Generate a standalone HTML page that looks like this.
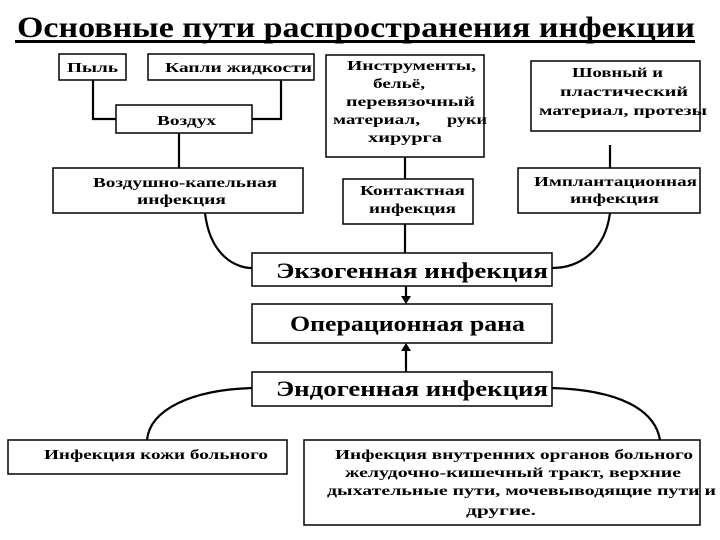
<!DOCTYPE html>
<html><head><meta charset="utf-8"><style>
html,body{margin:0;padding:0;background:#fff;}
svg{display:block}
text{font-family:"Liberation Serif",serif;font-weight:bold;fill:#000}
</style></head><body>
<svg width="720" height="540" viewBox="0 0 720 540" xmlns="http://www.w3.org/2000/svg">
<text x="17" y="37" font-size="30" textLength="678" lengthAdjust="spacingAndGlyphs">Основные пути распространения инфекции</text>
<rect x="15" y="40" width="680" height="3" fill="#000"/>
<g fill="#fff" stroke="#000" stroke-width="1.5">
<rect x="59" y="54" width="67" height="26"/>
<rect x="148" y="54" width="166" height="26"/>
<rect x="116" y="105" width="136" height="28"/>
<rect x="53" y="168" width="250" height="45"/>
<rect x="326" y="55" width="158" height="102"/>
<rect x="343" y="179" width="130" height="45"/>
<rect x="531" y="61" width="169" height="70"/>
<rect x="518" y="168" width="182" height="45"/>
<rect x="252" y="253" width="300" height="33"/>
<rect x="252" y="304" width="300" height="39"/>
<rect x="252" y="372" width="300" height="34"/>
<rect x="8" y="440" width="279" height="34"/>
<rect x="304" y="440" width="396" height="85"/>
</g>
<g fill="none" stroke="#000" stroke-width="2.2">
<path d="M93 80 V119 H116"/>
<path d="M281 80 V119 H252"/>
<path d="M179 133 V168"/>
<path d="M405 157 V179"/>
<path d="M405 224 V253"/>
<path d="M610 145 V168"/>
<path d="M205 213 C210 255,235 268,252 268"/>
<path d="M610 213 C605 252,578 268,552 268"/>
<path d="M252 388 C190 390,150 410,147 440"/>
<path d="M552 388 C620 390,655 410,660 440"/>
<path d="M406 286 V297"/>
<path d="M406 372 V350"/>
</g>
<polygon points="401,296 411,296 406,304" fill="#000"/>
<polygon points="401,351 411,351 406,343" fill="#000"/>
<g font-size="14">
<text x="67" y="72" textLength="51" lengthAdjust="spacingAndGlyphs">Пыль</text>
<text x="165" y="72" textLength="147" lengthAdjust="spacingAndGlyphs">Капли жидкости</text>
<text x="157" y="125" textLength="59" lengthAdjust="spacingAndGlyphs">Воздух</text>
<text x="93" y="187" textLength="184" lengthAdjust="spacingAndGlyphs">Воздушно-капельная</text>
<text x="137" y="204" textLength="89" lengthAdjust="spacingAndGlyphs">инфекция</text>
<text x="347" y="70" textLength="129" lengthAdjust="spacingAndGlyphs">Инструменты,</text>
<text x="373" y="88" textLength="52" lengthAdjust="spacingAndGlyphs">бельё,</text>
<text x="346" y="106" textLength="129" lengthAdjust="spacingAndGlyphs">перевязочный</text>
<text x="333" y="124" textLength="87" lengthAdjust="spacingAndGlyphs">материал,</text>
<text x="447" y="124" textLength="40" lengthAdjust="spacingAndGlyphs">руки</text>
<text x="368" y="142" textLength="74" lengthAdjust="spacingAndGlyphs">хирурга</text>
<text x="360" y="195" textLength="105" lengthAdjust="spacingAndGlyphs">Контактная</text>
<text x="369" y="213" textLength="87" lengthAdjust="spacingAndGlyphs">инфекция</text>
<text x="572" y="77" textLength="91" lengthAdjust="spacingAndGlyphs">Шовный и</text>
<text x="560" y="96" textLength="128" lengthAdjust="spacingAndGlyphs">пластический</text>
<text x="539" y="115" textLength="168" lengthAdjust="spacingAndGlyphs">материал, протезы</text>
<text x="534" y="186" textLength="163" lengthAdjust="spacingAndGlyphs">Имплантационная</text>
<text x="570" y="203" textLength="89" lengthAdjust="spacingAndGlyphs">инфекция</text>
<text x="44" y="459" textLength="224" lengthAdjust="spacingAndGlyphs">Инфекция кожи больного</text>
<text x="335" y="459" textLength="358" lengthAdjust="spacingAndGlyphs">Инфекция внутренних органов больного</text>
<text x="345" y="477" textLength="336" lengthAdjust="spacingAndGlyphs">желудочно-кишечный тракт, верхние</text>
<text x="327" y="495" textLength="389" lengthAdjust="spacingAndGlyphs">дыхательные пути, мочевыводящие пути и</text>
<text x="466" y="515" textLength="70" lengthAdjust="spacingAndGlyphs">другие.</text>
</g>
<g font-size="22">
<text x="276" y="278" textLength="272" lengthAdjust="spacingAndGlyphs">Экзогенная инфекция</text>
<text x="290" y="331" textLength="235" lengthAdjust="spacingAndGlyphs">Операционная рана</text>
<text x="276" y="396" textLength="272" lengthAdjust="spacingAndGlyphs">Эндогенная инфекция</text>
</g>
</svg>
</body></html>
